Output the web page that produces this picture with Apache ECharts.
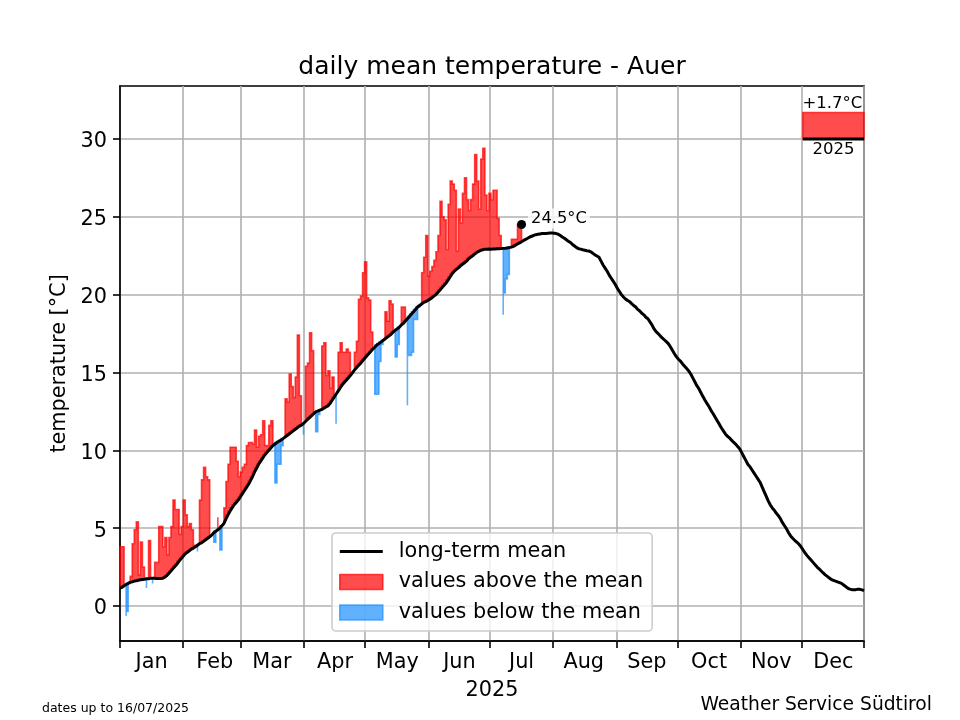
<!DOCTYPE html>
<html>
<head>
<meta charset="utf-8">
<title>daily mean temperature - Auer</title>
<script src="https://cdn.jsdelivr.net/npm/echarts@6/dist/echarts.min.js"></script>
<style>
    html, body { margin: 0; padding: 0; background: #fff; }
    #main { width: 960px; height: 720px; }
</style>
</head>
<body>
<div id="main"></div>
<script>
// x is the day of the year, both arrays are indexed by it
const meanTemp = [
    1.15,1.2,1.3,1.38,1.45,1.52,1.55,1.6,1.62,1.65,
    1.68,1.7,1.72,1.75,1.75,1.78,1.78,1.78,1.76,1.76,
    1.76,1.78,1.85,1.95,2.1,2.25,2.4,2.55,2.7,2.88,
    3.05,3.2,3.35,3.45,3.55,3.65,3.72,3.8,3.9,4.0,
    4.05,4.15,4.25,4.35,4.45,4.55,4.7,4.8,4.9,5.0,
    5.15,5.3,5.6,5.85,6.1,6.3,6.5,6.65,6.8,7.0,
    7.2,7.4,7.6,7.8,8.05,8.3,8.6,8.85,9.1,9.3,
    9.5,9.7,9.85,10.0,10.15,10.3,10.4,10.5,10.58,10.65,
    10.75,10.85,10.95,11.05,11.15,11.25,11.35,11.45,11.55,11.62,
    11.72,11.85,11.98,12.1,12.22,12.35,12.47,12.52,12.58,12.62,
    12.7,12.78,12.85,13.0,13.2,13.4,13.6,13.8,14.0,14.2,
    14.35,14.5,14.65,14.8,14.98,15.15,15.3,15.45,15.58,15.75,
    15.9,16.05,16.2,16.35,16.5,16.62,16.76,16.85,16.95,17.05,
    17.15,17.25,17.35,17.45,17.6,17.7,17.8,17.9,18.05,18.15,
    18.3,18.45,18.6,18.75,18.9,19.05,19.2,19.3,19.4,19.5,
    19.55,19.62,19.7,19.8,19.9,20.0,20.15,20.3,20.45,20.6,
    20.75,20.95,21.15,21.35,21.5,21.62,21.72,21.85,21.95,22.05,
    22.15,22.3,22.4,22.5,22.6,22.7,22.78,22.85,22.88,22.92,
    22.92,22.93,22.92,22.93,22.93,22.94,22.95,22.96,22.97,22.98,
    23.0,23.02,23.05,23.1,23.18,23.25,23.32,23.4,23.48,23.55,
    23.62,23.7,23.75,23.8,23.85,23.88,23.9,23.92,23.93,23.93,
    23.94,23.95,23.95,23.94,23.92,23.88,23.8,23.7,23.62,23.52,
    23.42,23.35,23.22,23.12,23.02,22.95,22.92,22.88,22.85,22.82,
    22.8,22.75,22.65,22.55,22.48,22.4,22.15,21.9,21.7,21.5,
    21.25,21.05,20.85,20.65,20.4,20.2,20.0,19.85,19.72,19.62,
    19.55,19.42,19.3,19.2,19.05,18.95,18.8,18.7,18.55,18.45,
    18.25,18.05,17.8,17.62,17.5,17.35,17.22,17.1,16.98,16.85,
    16.65,16.42,16.2,16.0,15.85,15.72,15.55,15.4,15.25,15.1,
    14.9,14.65,14.4,14.15,13.95,13.7,13.45,13.22,13.0,12.8,
    12.55,12.35,12.12,11.9,11.68,11.45,11.25,11.05,10.9,10.8,
    10.65,10.52,10.4,10.25,10.1,9.85,9.6,9.35,9.1,8.95,
    8.75,8.55,8.35,8.15,7.95,7.65,7.35,7.05,6.75,6.5,
    6.3,6.15,5.95,5.8,5.6,5.35,5.15,4.95,4.7,4.5,
    4.35,4.22,4.1,3.98,3.82,3.62,3.42,3.25,3.1,2.95,
    2.8,2.65,2.5,2.38,2.25,2.12,2.0,1.9,1.8,1.7,
    1.65,1.6,1.55,1.5,1.45,1.35,1.25,1.15,1.08,1.05,
    1.05,1.05,1.07,1.07,1.03,0.98
];
const dailyTemp = [
    3.8,3.8,3.8,-0.65,-0.35,1.6,1.9,4.0,4.9,5.4,
    2.0,4.1,2.5,1.15,2.5,4.2,1.45,2.5,2.8,2.8,
    5.1,5.1,3.8,4.4,3.3,4.4,5.1,6.8,6.2,6.2,
    4.6,5.1,6.8,5.85,5.1,5.3,4.9,3.9,3.5,5.0,
    6.8,8.1,8.9,8.3,8.1,4.55,4.1,4.1,5.7,4.5,
    3.6,5.6,6.3,8.0,9.1,10.2,10.2,10.2,9.3,8.3,
    8.6,8.9,9.1,10.3,10.5,10.5,10.4,11.3,10.2,10.9,
    11.0,11.9,10.3,10.3,11.6,11.9,9.0,7.9,9.1,9.1,
    10.3,10.9,13.3,13.1,14.9,14.1,13.4,14.7,17.4,13.5,
    11.0,12.5,15.4,15.6,17.55,16.4,11.2,11.2,12.3,12.8,
    16.7,16.9,14.8,15.1,14.0,14.7,11.7,14.0,16.3,16.9,
    16.3,16.3,16.5,16.3,14.98,15.3,16.3,17.0,19.7,19.9,
    21.4,22.1,19.8,19.65,17.6,13.6,13.6,13.6,15.7,16.8,
    17.3,18.9,18.3,19.6,19.4,16.0,16.0,16.8,18.2,19.2,
    19.2,12.9,16.1,16.1,16.3,18.4,18.4,19.2,19.5,21.4,
    22.4,23.8,21.2,21.5,21.8,22.2,22.75,23.8,26.0,25.0,
    24.8,22.9,25.8,27.3,27.1,26.7,22.8,25.5,24.6,26.5,
    27.5,26.1,25.4,26.1,27.1,29.0,27.3,25.5,28.7,29.4,
    26.4,25.4,26.5,26.1,26.7,26.7,24.9,23.8,18.7,20.1,
    21.0,21.3,23.3,23.55,23.55,23.55,24.5,24.5
];
const monthStarts = [0, 31, 59, 90, 120, 151.5, 181.5, 212.3, 243.6, 273.6, 304.4, 334.6, 365];
const monthMids = [15.5, 46.5, 74.5, 105.5, 136, 166.5, 197, 227.5, 258.5, 289, 319.5, 350];
const monthNames = ['Jan', 'Feb', 'Mar', 'Apr', 'May', 'Jun', 'Jul', 'Aug', 'Sep', 'Oct', 'Nov', 'Dec'];
const tempTicks = [0, 5, 10, 15, 20, 25, 30];
const lastPoint = [197, 24.5];
const anomalyBox = [335, 365, 30, 31.7];

const fontName = 'DejaVu Sans';
const redFill = 'rgba(255,0,0,0.7)';
const blueFill = 'rgba(30,144,255,0.7)';

// days in a row on the same side of the mean, as [first, last]
function findRuns(sign) {
    let runs = [];
    let start = -1;
    for (let i = 0; i <= dailyTemp.length; i++) {
        let inside = i < dailyTemp.length && (dailyTemp[i] - meanTemp[i]) * sign > 0;
        if (inside && start < 0) {
            start = i;
        }
        if (!inside && start >= 0) {
            runs.push([start, i - 1]);
            start = -1;
        }
    }
    return runs;
}

// stepped band between the mean and the daily value, the value is reached at the end of its day
function renderBand(color) {
    return function (params, api) {
        let first = api.value(0);
        let last = api.value(1);
        let points = [api.coord([first, dailyTemp[first]])];
        for (let i = first + 1; i <= last; i++) {
            points.push(api.coord([i - 1, dailyTemp[i]]));
            points.push(api.coord([i, dailyTemp[i]]));
        }
        for (let i = last; i > first; i--) {
            points.push(api.coord([i, meanTemp[i]]));
            points.push(api.coord([i - 1, meanTemp[i]]));
        }
        points.push(api.coord([first, meanTemp[first]]));
        return {
            type: 'polygon',
            shape: { points: points },
            style: { fill: color, stroke: color, lineWidth: 1.6, lineJoin: 'miter' }
        };
    };
}

function bandSeries(name, sign, color) {
    return {
        name: name,
        type: 'custom',
        renderItem: renderBand(color),
        data: findRuns(sign),
        encode: { x: [0, 1] },
        itemStyle: { color: color },
        silent: true,
        z: 3
    };
}

// the box in the top right corner, this year against the long-term mean
function renderAnomaly(params, api) {
    let x0 = api.value(0);
    let x1 = api.value(1);
    let y0 = api.value(2);
    let y1 = api.value(3);
    let a = api.coord([x0, y1]);
    let b = api.coord([x1, y0]);
    let mid = (a[0] + b[0]) / 2;
    return {
        type: 'group',
        children: [
            {
                type: 'rect',
                shape: { x: a[0], y: a[1], width: b[0] - a[0], height: b[1] - a[1] },
                style: { fill: redFill, stroke: redFill, lineWidth: 1.6 }
            },
            {
                type: 'line',
                shape: { x1: a[0], y1: b[1], x2: b[0], y2: b[1] },
                style: { stroke: '#000', lineWidth: 3 }
            },
            {
                type: 'text',
                style: {
                    text: '+' + (y1 - y0).toFixed(1) + '°C', x: mid - 1, y: a[1],
                    align: 'center', verticalAlign: 'bottom',
                    font: '16.5px "DejaVu Sans"', fill: '#000'
                }
            },
            {
                type: 'text',
                style: {
                    text: '2025', x: mid, y: b[1] + 2,
                    align: 'center', verticalAlign: 'top',
                    font: '16.5px "DejaVu Sans"', fill: '#000'
                }
            }
        ]
    };
}

var myChart = echarts.init(document.getElementById('main'), null, { renderer: 'canvas' });
var option = {
    animation: false,
    backgroundColor: '#fff',
    textStyle: { fontFamily: fontName, color: '#000' },
    title: {
        text: 'daily mean temperature - Auer',
        left: 487,
        top: 50,
        textAlign: 'center',
        textStyle: { fontFamily: fontName, fontSize: 25, fontWeight: 'normal', color: '#000' }
    },
    grid: {
        left: 120,
        right: 96,
        top: 86,
        bottom: 79,
        show: true,
        borderColor: '#000',
        borderWidth: 1.6
    },
    legend: {
        orient: 'vertical',
        left: 332,
        top: 533,
        padding: [8, 9, 8, 7],
        itemWidth: 43,
        itemHeight: 15,
        itemGap: 9.5,
        backgroundColor: 'rgba(255,255,255,0.8)',
        borderColor: '#ccc',
        borderWidth: 1.6,
        borderRadius: 4,
        textStyle: { fontFamily: fontName, fontSize: 20.8, color: '#000', padding: [0, 0, 0, 11] },
        data: [
            { name: 'long-term mean', icon: 'path://M0 6H43V9H0Z', itemStyle: { color: '#000' } },
            { name: 'values above the mean', icon: 'rect', itemStyle: { color: redFill, borderColor: redFill, borderWidth: 1.6 } },
            { name: 'values below the mean', icon: 'rect', itemStyle: { color: blueFill, borderColor: blueFill, borderWidth: 1.6 } }
        ]
    },
    xAxis: {
        type: 'value',
        min: 0,
        max: 365,
        name: '2025',
        nameLocation: 'middle',
        nameGap: 39,
        nameTextStyle: { fontFamily: fontName, fontSize: 20.8, color: '#000' },
        axisLine: { onZero: false, lineStyle: { color: '#000', width: 1.6 } },
        axisTick: { length: 7, customValues: monthStarts, lineStyle: { color: '#000', width: 1.6 } },
        axisLabel: {
            customValues: monthMids,
            margin: 11,
            fontFamily: fontName,
            fontSize: 20.8,
            color: '#000',
            formatter: function (value) {
                return monthNames[monthMids.indexOf(value)];
            }
        },
        splitLine: { show: true, lineStyle: { color: '#b0b0b0', width: 1.6 } }
    },
    yAxis: {
        type: 'value',
        min: -2.25,
        max: 33.4,
        name: 'temperature [°C]',
        nameLocation: 'middle',
        nameGap: 50,
        nameTextStyle: { fontFamily: fontName, fontSize: 20.8, color: '#000' },
        axisLine: { show: true, onZero: false, lineStyle: { color: '#000', width: 1.6 } },
        axisTick: { show: true, length: 7, customValues: tempTicks, lineStyle: { color: '#000', width: 1.6 } },
        axisLabel: {
            customValues: tempTicks,
            margin: 13,
            fontFamily: fontName,
            fontSize: 20.8,
            color: '#000',
            verticalAlign: 'top',
            lineHeight: 6
        },
        splitLine: { show: true, lineStyle: { color: '#b0b0b0', width: 1.6 } }
    },
    graphic: [
        {
            type: 'text',
            left: 42,
            top: 702,
            style: { text: 'dates up to 16/07/2025', font: '12.5px "DejaVu Sans"', fill: '#000' }
        },
        {
            type: 'text',
            right: 28,
            top: 696,
            style: { text: 'Weather Service Südtirol', font: '18.7px "DejaVu Sans"', fill: '#000' }
        }
    ],
    series: [
        bandSeries('values above the mean', 1, redFill),
        bandSeries('values below the mean', -1, blueFill),
        {
            name: 'long-term mean',
            type: 'line',
            data: meanTemp.map(function (v, i) { return [i, v]; }),
            showSymbol: false,
            lineStyle: { color: '#000', width: 3 },
            itemStyle: { color: '#000' },
            z: 5
        },
        {
            name: 'latest value',
            type: 'scatter',
            data: [lastPoint],
            symbolSize: 9,
            itemStyle: { color: '#000', opacity: 1 },
            label: {
                show: true,
                position: 'right',
                distance: 2,
                offset: [0, -6],
                formatter: lastPoint[1].toFixed(1) + '°C',
                fontFamily: fontName,
                fontSize: 16.3,
                color: '#000',
                backgroundColor: 'rgba(255,255,255,0.8)',
                borderRadius: 6,
                padding: [2, 3, 2, 3]
            },
            z: 6
        },
        {
            name: 'anomaly',
            type: 'custom',
            renderItem: renderAnomaly,
            data: [anomalyBox],
            encode: { x: [0, 1], y: [2, 3] },
            z: 6
        }
    ]
};
myChart.setOption(option);
</script>
</body>
</html>
